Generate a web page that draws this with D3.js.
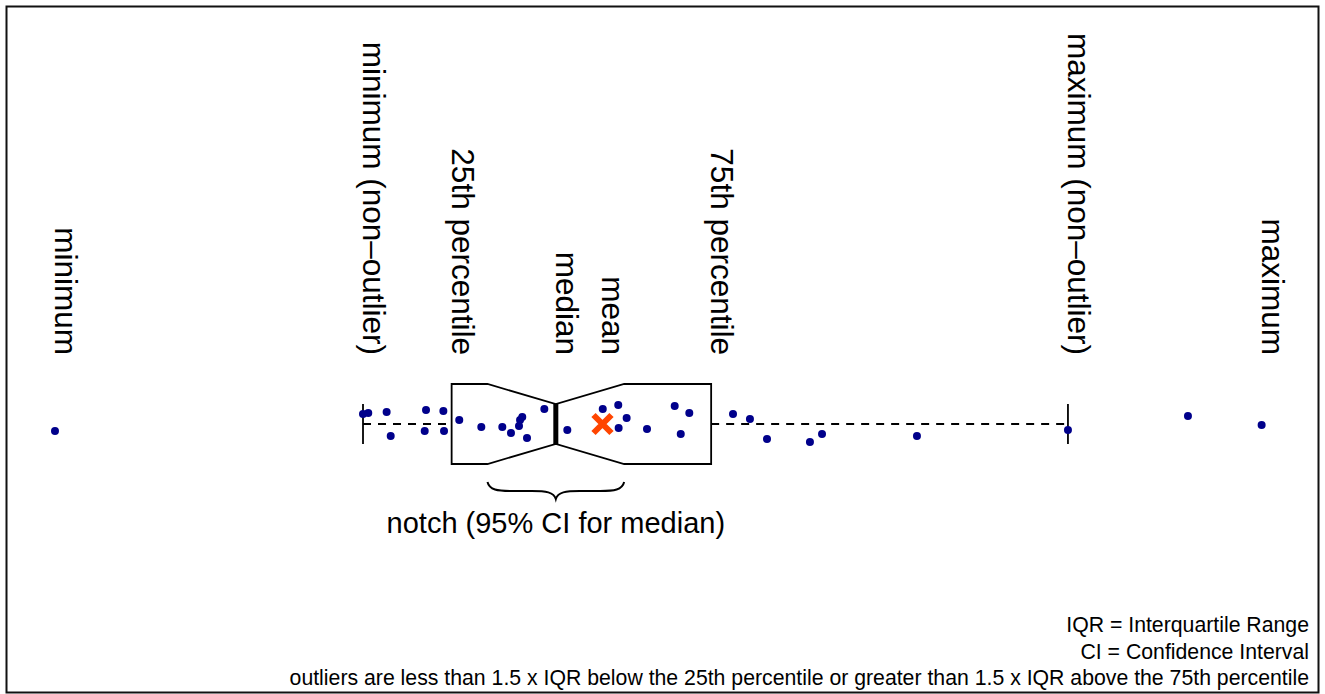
<!DOCTYPE html>
<html>
<head>
<meta charset="utf-8">
<script src="https://cdn.jsdelivr.net/npm/d3@7"></script>
<style>
  html, body { margin: 0; padding: 0; background: #fff; }
  svg { display: block; }
  text { font-family: "Liberation Sans", Arial, Helvetica, sans-serif; fill: #000; }
</style>
</head>
<body>
<svg id="chart" width="1325" height="694"></svg>
<script>
// Observations, sorted ascending
const values = [3.73, 27.19, 27.59, 28.99, 29.30, 31.89, 31.99, 33.31, 33.36, 34.52,
  36.20, 37.80, 38.46, 39.07, 39.15, 39.32, 39.68, 41.00, 42.75, 45.45,
  46.63, 46.66, 47.27, 48.82, 50.93, 51.39, 52.04, 55.37, 56.66, 57.96,
  61.23, 62.15, 69.38, 80.88, 90.02, 95.63];
// Vertical jitter of each observation around the box centre
const jitter = [-0.07, 0.10, 0.11, 0.12, -0.12, -0.07, 0.14, 0.13, -0.07, 0.04,
  -0.03, -0.03, -0.09, -0.02, 0.04, 0.07, -0.14, 0.15, -0.06, 0.15,
  0.19, -0.04, 0.06, -0.05, 0.18, -0.10, 0.11, 0.10, 0.05, -0.15,
  -0.18, -0.10, -0.12, -0.06, 0.08, -0.01];
const meanValue = 45.43;

const notes = [
  "IQR = Interquartile Range",
  "CI = Confidence Interval",
  "outliers are less than 1.5 x IQR below the 25th percentile or greater than 1.5 x IQR above the 75th percentile"
];

// ---- box statistics (Tukey hinges, 1.5 IQR whiskers, notch) ----
const sorted = values.slice().sort((a, b) => a - b);
const n = sorted.length;
function at(pos) { // 1-based position, may be fractional (.5)
  const lo = Math.floor(pos), hi = Math.ceil(pos);
  return (sorted[lo - 1] + sorted[hi - 1]) / 2;
}
const n4 = Math.floor((n + 3) / 2) / 2;
const q1 = at(n4);
const med = at((n + 1) / 2);
const q3 = at(n + 1 - n4);
const iqr = q3 - q1;
const whiskLo = d3.min(sorted.filter(v => v >= q1 - 1.5 * iqr));
const whiskHi = d3.max(sorted.filter(v => v <= q3 + 1.5 * iqr));
const notchLo = med - 1.58 * iqr / Math.sqrt(n);
const notchHi = med + 1.58 * iqr / Math.sqrt(n);

const labels = [
  { text: "minimum", v: sorted[0] },
  { text: "minimum (non\u2013outlier)", v: whiskLo },
  { text: "25th percentile", v: q1 },
  { text: "median", v: med },
  { text: "mean", v: meanValue },
  { text: "75th percentile", v: q3 },
  { text: "maximum (non\u2013outlier)", v: whiskHi },
  { text: "maximum", v: sorted[n - 1] }
];

const svg = d3.select("#chart");
const x = d3.scaleLinear().domain([0, 100]).range([6, 1319]);
const y = d3.scaleLinear().domain([0.5, 1.5]).range([474, 374]);

// outer frame
svg.append("rect")
  .attr("x", 6.5).attr("y", 6.5).attr("width", 1312).attr("height", 686)
  .attr("fill", "none").attr("stroke", "#111").attr("stroke-width", 2);

const g = svg.append("g");

// whiskers (dashed) and staples
[[whiskLo, q1], [q3, whiskHi]].forEach(([a, b]) => {
  g.append("line")
    .attr("x1", x(a)).attr("x2", x(b)).attr("y1", y(1)).attr("y2", y(1))
    .attr("stroke", "#000").attr("stroke-width", 1.8).attr("stroke-dasharray", "8,7");
});
[whiskLo, whiskHi].forEach(v => {
  g.append("line")
    .attr("x1", x(v)).attr("x2", x(v)).attr("y1", y(0.8)).attr("y2", y(1.2))
    .attr("stroke", "#000").attr("stroke-width", 1.8);
});

// notched box
const boxTop = 1.4, boxBot = 0.6, notchTop = 1.2, notchBot = 0.8;
const boxPts = [
  [q1, boxTop], [notchLo, boxTop], [med, notchTop], [notchHi, boxTop], [q3, boxTop],
  [q3, boxBot], [notchHi, boxBot], [med, notchBot], [notchLo, boxBot], [q1, boxBot]
];
g.append("path")
  .attr("d", d3.line().x(d => x(d[0])).y(d => y(d[1]))(boxPts) + "Z")
  .attr("fill", "none").attr("stroke", "#000").attr("stroke-width", 1.8)
  .attr("stroke-linejoin", "miter");

// median bar
g.append("line")
  .attr("x1", x(med)).attr("x2", x(med)).attr("y1", y(notchBot)).attr("y2", y(notchTop))
  .attr("stroke", "#000").attr("stroke-width", 5);

// observations
g.selectAll("circle.obs").data(values.map((v, i) => ({ v, j: jitter[i] })))
  .enter().append("circle").attr("class", "obs")
  .attr("cx", d => x(d.v)).attr("cy", d => y(1 + d.j)).attr("r", 4)
  .attr("fill", "#00008B");

// mean marker
const mx = x(meanValue), my = y(1), arm = 9;
g.append("path")
  .attr("d", `M${mx - arm},${my - arm}L${mx + arm},${my + arm}M${mx - arm},${my + arm}L${mx + arm},${my - arm}`)
  .attr("stroke", "#FF4500").attr("stroke-width", 6).attr("fill", "none");

// rotated labels
g.selectAll("text.lab").data(labels).enter().append("text").attr("class", "lab")
  .attr("transform", d => `translate(${x(d.v)},355) rotate(90)`)
  .attr("text-anchor", "end")
  .style("font-size", "31.5px")
  .text(d => d.text);

// curly brace under the notch
const bx0 = x(notchLo), bx1 = x(notchHi), bm = x(med);
const yTop = 482, yMid = 491, yTip = 499;
const bp = d3.path();
bp.moveTo(bx0, yTop);
bp.bezierCurveTo(bx0 + 2, yMid - 1, bx0 + 10, yMid, bx0 + 24, yMid);
bp.lineTo(bm - 24, yMid);
bp.bezierCurveTo(bm - 10, yMid, bm - 2, yMid + 1, bm, yTip);
bp.bezierCurveTo(bm + 2, yMid + 1, bm + 10, yMid, bm + 24, yMid);
bp.lineTo(bx1 - 24, yMid);
bp.bezierCurveTo(bx1 - 10, yMid, bx1 - 2, yMid - 1, bx1, yTop);
g.append("path").attr("d", bp.toString())
  .attr("fill", "none").attr("stroke", "#000").attr("stroke-width", 2);

g.append("text")
  .attr("x", bm).attr("y", 533)
  .attr("text-anchor", "middle")
  .style("font-size", "29px")
  .text("notch (95% CI for median)");

// footnotes
const noteY = [632, 659, 685];
svg.selectAll("text.note").data(notes).enter().append("text").attr("class", "note")
  .attr("x", 1309).attr("y", (d, i) => noteY[i])
  .attr("text-anchor", "end")
  .style("font-size", "21.25px")
  .text(d => d);
</script>
</body>
</html>
